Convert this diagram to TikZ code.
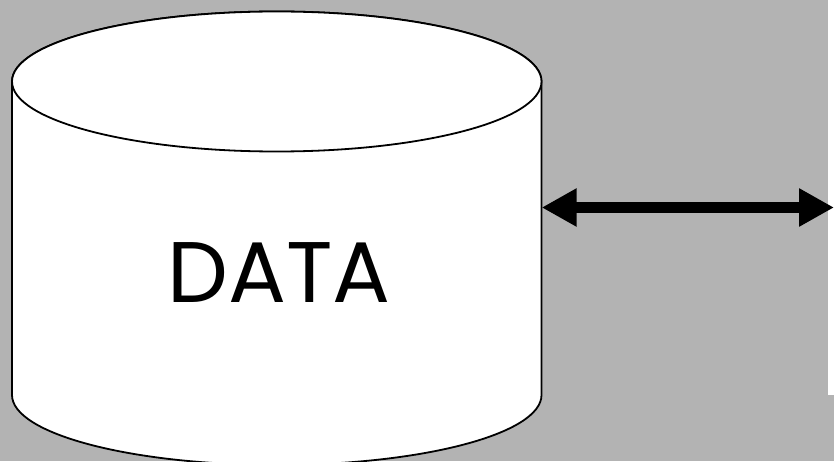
\documentclass[tikz,border=0pt]{standalone}
\usepackage{fontspec}
\newfontfamily\labelfont{Poppins}
\usetikzlibrary{arrows.meta}
\definecolor{bggray}{HTML}{B3B3B3}
\tikzset{
  cyl/.style={draw=black, fill=white, line width=1.8pt},
  arr/.style={line width=11.5pt, {Triangle[length=35pt,width=36pt]}-{Triangle[length=35pt,width=36pt]}},
  lbl/.style={font=\labelfont\fontsize{86}{92}\selectfont, inner sep=0pt}
}
\begin{document}
\begin{tikzpicture}[x=1pt,y=1pt]
\useasboundingbox (0,0) rectangle (834,461);
\fill[bggray] (0,0) rectangle (834,461);
\clip (0,0) rectangle (834,461);
\fill[white] (828,66) rectangle (834,461);
% cylinder body
\node[minimum width=529.5pt, minimum height=313.5pt, inner sep=0pt] (db) at (276.75,222.75) {};
\draw[cyl] (12,379.5) -- (12,66) arc[start angle=180, end angle=360, x radius=264.75, y radius=70] -- (541.5,379.5) arc[start angle=0, end angle=180, x radius=264.75, y radius=70] -- cycle;
\draw[cyl] (276.75,379.5) ellipse [x radius=264.75, y radius=70];
\node[lbl] (txt) at (279,188.5) {DATA};
\coordinate (r) at (834,253.5);
\draw[arr] (db.east |- r) -- (r);
\end{tikzpicture}
\end{document}
